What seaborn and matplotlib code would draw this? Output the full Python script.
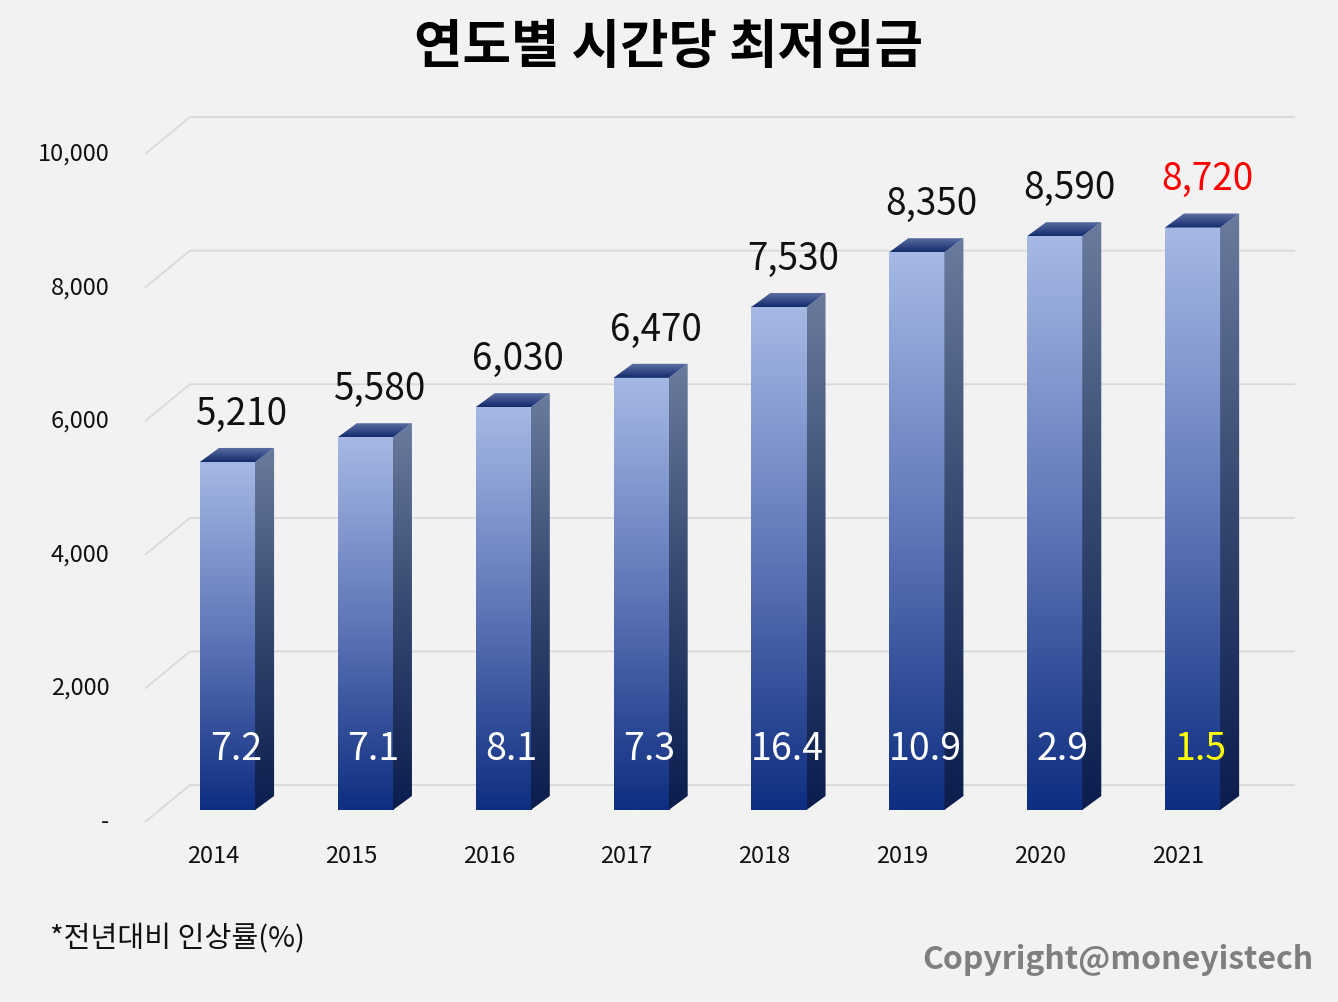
import numpy as np
import pandas as pd
import matplotlib
matplotlib.use("Agg")
import matplotlib.pyplot as plt
from matplotlib.colors import LinearSegmentedColormap
from matplotlib.patches import Polygon
import seaborn as sns

# 연도별 시간당 최저임금 (원) / 전년대비 인상률 (%)
years = ["2014", "2015", "2016", "2017", "2018", "2019", "2020", "2021"]
wages = [5210, 5580, 6030, 6470, 7530, 8350, 8590, 8720]
rates = [7.2, 7.1, 8.1, 7.3, 16.4, 10.9, 2.9, 1.5]
yticks = [0, 2000, 4000, 6000, 8000, 10000]
ytick_labels = ["-", "2,000", "4,000", "6,000", "8,000", "10,000"]

sns.set_style("white")
plt.rcParams["font.family"] = ["Noto Sans CJK KR", "DejaVu Sans"]

BG = "#f2f2f2"
df = pd.DataFrame({"year": years, "wage": wages, "rate": rates})

fig = plt.figure(figsize=(13.38, 10.02), dpi=100, facecolor=BG)
ax = fig.add_axes([0, 0, 1, 1])
ax.set_facecolor(BG)

sns.barplot(data=df, x="year", y="wage", width=0.4, color="#5b72b5",
            ax=ax, zorder=3, linewidth=0)

# 3D 느낌 (깊이 오프셋)
dx, dy = 0.138, 210
front_cmap = LinearSegmentedColormap.from_list("front", ["#a6b9e4", "#5f76b8", "#0e2e80"])
side_cmap = LinearSegmentedColormap.from_list("side", ["#6a7b9d", "#35466f", "#0b1d4d"])
top_cmap = LinearSegmentedColormap.from_list("top", ["#6073a6", "#132a6c"])
grad = np.linspace(0, 1, 256).reshape(-1, 1)

for p in ax.patches:
    x0, w, h = p.get_x(), p.get_width(), p.get_height()
    x1 = x0 + w
    ax.imshow(grad, cmap=front_cmap, extent=[x0, x1, 0, h], aspect="auto", zorder=4)
    side = Polygon([(x1, 0), (x1 + dx, dy), (x1 + dx, h + dy), (x1, h)],
                   closed=True, facecolor="none", edgecolor="none")
    ax.add_patch(side)
    im = ax.imshow(grad, cmap=side_cmap, extent=[x1, x1 + dx, 0, h + dy], aspect="auto", zorder=4)
    im.set_clip_path(side)
    top = Polygon([(x0, h), (x1, h), (x1 + dx, h + dy), (x0 + dx, h + dy)],
                  closed=True, facecolor="none", edgecolor="none")
    ax.add_patch(top)
    im = ax.imshow(grad, cmap=top_cmap, extent=[x0, x1 + dx, h, h + dy], aspect="auto", zorder=4)
    im.set_clip_path(top)

# 뒷벽 격자선
for v, lab in zip(yticks, ytick_labels):
    ax.plot([-0.598, -0.272, 7.743], [v - 180, v + 374, v + 374],
            color="#d9d9d9", lw=1.3, zorder=1, solid_capstyle="butt")
    ax.text(-0.855, v - 180, lab, ha="right", va="center", fontsize=17, color="#111111")

for i, (yr, w_, r) in enumerate(zip(years, wages, rates)):
    ax.text(i - 0.105, -689, yr, ha="center", va="center", fontsize=17, color="#111111")
    ax.text(i + 0.105, w_ + 560, f"{w_:,}", ha="center", va="baseline", fontsize=26.5,
            color="#ff0000" if yr == "2021" else "#111111", zorder=6)
    ax.text(i + 0.06, 749, f"{r}", ha="center", va="baseline", fontsize=27,
            color="#ffff00" if yr == "2021" else "white", zorder=6)

ax.set_xlim(-1.650, 8.055)
ax.set_ylim(-2874, 12126)
ax.axis("off")

fig.text(668 / 1338, 1 - 47 / 1002, "연도별 시간당 최저임금", ha="center", va="center",
         fontsize=38, fontweight="bold", color="#000000")
fig.text(50 / 1338, 1 - 939 / 1002, "*전년대비 인상률(%)", ha="left", va="center",
         fontsize=21, color="#111111")
fig.text(1313 / 1338, 1 - 960 / 1002, "Copyright@moneyistech", ha="right", va="center",
         fontsize=23, fontweight="bold", color="#7f7f7f")

fig.savefig("out.png", dpi=100, facecolor=BG)
